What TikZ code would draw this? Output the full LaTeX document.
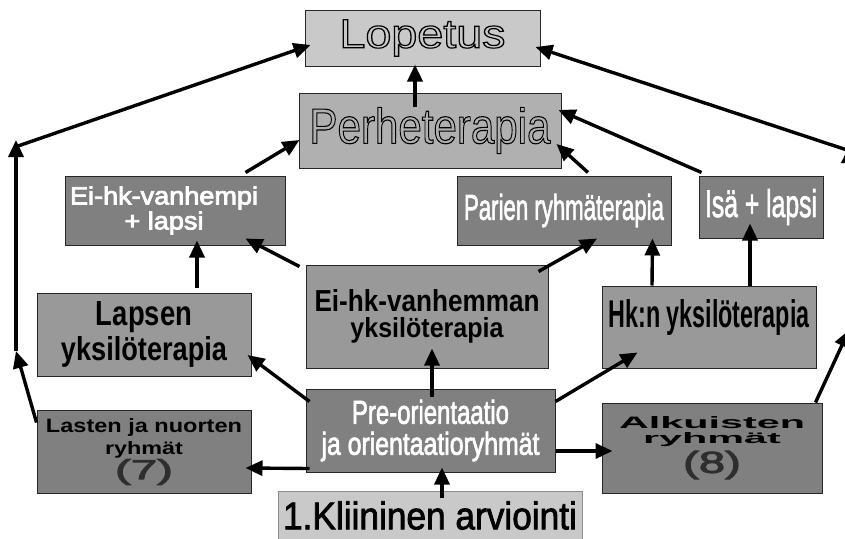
\documentclass[tikz,border=0pt]{standalone}
\usepackage{fontspec}
\setmainfont{Liberation Sans}
\usepackage{graphicx}
\usetikzlibrary{calc,arrows.meta}

\definecolor{litefill}{gray}{0.79}
\definecolor{perfill}{gray}{0.69}
\definecolor{midfill}{gray}{0.60}
\definecolor{darkfill}{gray}{0.50}
\definecolor{numgray}{gray}{0.18}

% 行距由 \\[..] 决定
\newcommand{\nolead}{\fontsize{10}{0}\selectfont\lineskiplimit=-\maxdimen}
% 按给定宽高缩放文字
\newcommand{\fitt}[3]{\resizebox{#1pt}{#2pt}{\fontsize{\dimexpr#2pt*100/72\relax}{0}\selectfont #3}}
% 空心字 (只描边)
\newcommand{\hollow}[3]{\special{pdf:literal direct 1 Tr 1.1 w}\fitt{#1}{#2}{#3}\special{pdf:literal direct 0 Tr}}
% 加粗 (填充+描边)
\newcommand{\heavy}[3]{\special{pdf:literal direct 2 Tr 0.8 w}\fitt{#1}{#2}{#3}\special{pdf:literal direct 0 Tr}}

\begin{document}
\begin{tikzpicture}[x=1pt, y=-1pt,
  box/.style={draw=black!85, line width=1pt, inner sep=0pt, align=center, font=\nolead},
  whitetxt/.style={text=white},
  boldtxt/.style={font={\nolead\bfseries}},
  arr/.style={line width=3.4pt, -{Triangle[length=17pt,width=15pt]}}]

  % 参数
  \def\bw{845}  % 宽
  \def\bh{538}  % 高
  \useasboundingbox (0,0) rectangle (\bw,\bh);
  \clip (0,0) rectangle (\bw,\bh);

  % ---- 上部: Lopetus 与 Perheterapia ----
  \node[box, fill=litefill, minimum width=235, minimum height=56] (lopetus) at (422.5,38)
    {\hollow{166}{28}{Lopetus}};
  \node[box, fill=perfill, minimum width=262, minimum height=75] (perhe) at (430,130.5)
    {\hollow{241}{36}{Perheterapia}};

  % ---- 第二行 ----
  \node[box, whitetxt, fill=darkfill, minimum width=220, minimum height=69] (eivl) at (175,210.5)
    {\heavy{188}{18}{Ei-hk-vanhempi}\rule{22pt}{0pt}\\[25pt]\heavy{79}{18}{+ lapsi}\rule{22pt}{0pt}};
  \node[box, whitetxt, fill=darkfill, minimum width=214, minimum height=69] (parien) at (564,210.5)
    {\heavy{200}{26}{Parien ryhmäterapia}};
  \node[box, whitetxt, fill=darkfill, minimum width=124, minimum height=62] (isa) at (761,207)
    {\heavy{112}{28}{Isä + lapsi}};

  % ---- 第三行 ----
  \node[box, boldtxt, fill=midfill, minimum width=214, minimum height=83] (lapsen) at (144,334.5)
    {\fitt{96}{24}{Lapsen}\\[35pt]\fitt{166}{24}{yksilöterapia}};
  \node[box, boldtxt, fill=midfill, minimum width=242, minimum height=103] (eivy) at (427,316.5)
    {\fitt{225}{22}{Ei-hk-vanhemman}\\[26pt]\fitt{153}{20}{yksilöterapia}};
  \node[box, boldtxt, fill=midfill, minimum width=214, minimum height=82] (hkn) at (709,327)
    {\raisebox{9pt}[\height][\depth]{\fitt{201}{28}{Hk:n yksilöterapia}}};

  % ---- 第四行 ----
  \node[box, boldtxt, fill=darkfill, minimum width=214, minimum height=83] (lasten) at (144,451.5)
    {\fitt{196}{14}{Lasten ja nuorten}\\[22pt]\fitt{78}{13}{ryhmät}\\[25pt]%
     \textcolor{numgray}{\mdseries\heavy{58}{20}{(7)}}};
  \node[box, whitetxt, fill=darkfill, minimum width=249, minimum height=83] (pre) at (430.5,430.5)
    {\heavy{157}{24}{Pre-orientaatio}\\[31pt]\heavy{218}{23}{ja orientaatioryhmät}};
  \node[box, boldtxt, fill=darkfill, minimum width=220, minimum height=90] (alk) at (712,448)
    {\fitt{186}{12}{Alkuisten}\\[15pt]\fitt{138}{11}{ryhmät}\\[29pt]%
     \textcolor{numgray}{\mdseries\heavy{58}{22}{(8)}}};

  % ---- 底部 ----
  \node[box, draw=black!45, fill=litefill, minimum width=304, minimum height=49] (klin) at (430,515.5)
    {\heavy{294}{28}{1.Kliininen arviointi}};

  % 两侧折线的拐点
  \coordinate (lbend) at (16,351);
  \coordinate (ltop)  at (16,140);
  \coordinate (rbend) at (849,330);
  \coordinate (rtop)  at (849,146);

  % ---- 箭头 ----
  \draw[arr] ($(perhe.north)+(-15,14)$) -- ($(lopetus.south)+(-7.5,-2)$);
  \draw[arr] ($(eivl.north east)+(-40,-3)$) -- ($(perhe.west)+(1,9.5)$);
  \draw[arr] ($(parien.north)+(24,-3)$) -- ($(perhe.east)+(-5,13.5)$);
  \draw[arr] ($(isa.north west)+(3,-3)$) -- ($(perhe.east)+(-3,-20.5)$);
  \draw[arr] ($(lapsen.north)+(53,-5)$) -- ($(eivl.south)+(22,-5)$);
  \draw[arr] ($(eivy.north west)+(-6,2)$) -- ($(eivl.south east)+(-40,-7)$);
  \draw[arr] ($(eivy.north east)+(-10,7)$) -- ($(parien.south)+(33,-7)$);
  \draw[arr] ($(hkn.north)+(-57,0)$) -- ($(parien.south east)+(-19,-7)$);
  \draw[arr] ($(hkn.north)+(41,0)$) -- ($(isa.south)+(-11,-15)$);
  \draw[arr] ($(pre.north west)+(4,13)$) -- ($(lapsen.east)+(-4,20.5)$);
  \draw[arr] ($(pre.north)+(1.5,8)$) -- ($(eivy.south)+(5,-20)$);
  \draw[arr] ($(pre.north east)+(0,13)$) -- ($(hkn.south west)+(36,-16)$);
  \draw[arr] ($(pre.south west)+(4,-4)$) -- ($(lasten.east)+(-6,16.5)$);
  \draw[arr] ($(pre.east)+(0,20.5)$) -- ($(alk.west)+(11,3)$);
  \draw[arr] ($(klin.north)+(12,7)$) -- ($(pre.south)+(11.5,-5)$);

  % 左侧: Lasten ja nuorten ryhmät -> Lopetus
  \draw[arr] ($(lasten.north west)+(0,13)$) -- (lbend);
  \draw[arr] (lbend) -- (ltop);
  \draw[arr] ($(ltop)+(2,6)$) -- ($(lopetus.west)+(6,7)$);

  % 右侧: Alkuisten ryhmät -> Lopetus
  \draw[arr] ($(alk.north east)+(-7,0)$) -- (rbend);
  \draw[arr] (rbend) -- (rtop);
  \draw[arr] ($(rtop)+(-2,4)$) -- ($(lopetus.east)+(-5,9)$);

\end{tikzpicture}
\end{document}
